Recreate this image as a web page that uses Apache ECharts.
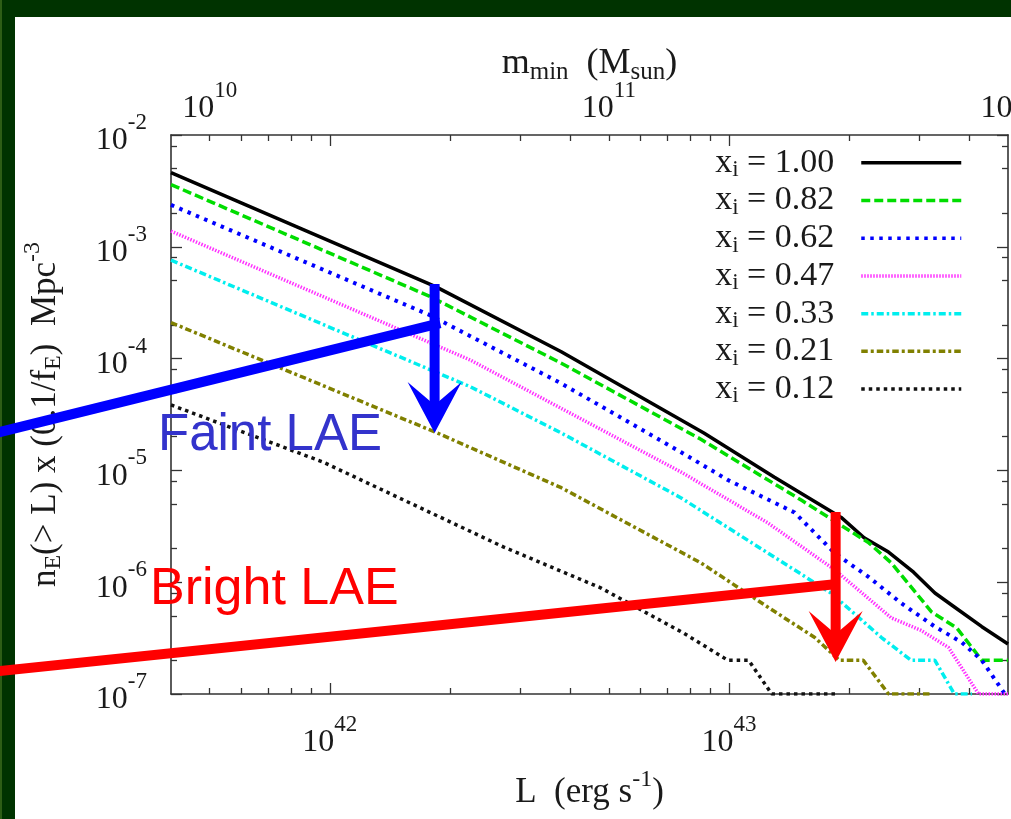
<!DOCTYPE html>
<html>
<head>
<meta charset="utf-8">
<script src="https://cdn.jsdelivr.net/npm/echarts@6/dist/echarts.min.js"></script>
<style>
  html, body { margin: 0; padding: 0; width: 1011px; height: 819px; overflow: hidden; background: #003300; }
  #edge { position: absolute; left: 0; top: 0; width: 2px; bottom: 0; background: #2e5e16; }
  #sheet { position: absolute; left: 15px; top: 17px; right: 0; bottom: 0; background: #ffffff; }
  #chart { position: absolute; left: 0; top: 0; width: 1011px; height: 819px; }
</style>
</head>
<body>
<div id="edge"></div>
<div id="sheet"></div>
<div id="chart"></div>
<script>
// Cumulative LAE number density n_E(>L) for several ionized fractions x_i
const seriesNames = ['x_i = 1.00', 'x_i = 0.82', 'x_i = 0.62', 'x_i = 0.47', 'x_i = 0.33', 'x_i = 0.21', 'x_i = 0.12'];

const lum100 = [4.0e41, 1.84e42, 3.8e42, 8.65e42, 1.30e43, 1.91e43, 2.18e43, 2.51e43, 2.90e43, 3.28e43, 3.67e43, 4.30e43, 5.0e43];
const dens100 = [4.6e-3, 4.4e-4, 1.15e-4, 2.16e-5, 8.7e-6, 3.8e-6, 2.5e-6, 1.86e-6, 1.23e-6, 8.0e-7, 6.0e-7, 4.0e-7, 2.8e-7];

const lum082 = [4.0e41, 1.78e42, 3.8e42, 8.5e42, 1.52e43, 2.24e43, 2.55e43, 3.22e43, 3.72e43, 4.30e43, 5.0e43];
const dens082 = [3.6e-3, 3.6e-4, 9.1e-5, 1.9e-5, 5.4e-6, 2.25e-6, 1.49e-6, 5.4e-7, 3.9e-7, 2.0e-7, 2.0e-7];

const lum062 = [4.0e41, 1.78e42, 3.8e42, 7.57e42, 9.94e42, 1.46e43, 1.84e43, 2.24e43, 2.70e43, 3.28e43, 3.83e43, 4.30e43, 4.91e43, 5.0e43];
const dens062 = [2.37e-3, 2.45e-4, 6.0e-5, 1.46e-5, 8.2e-6, 4.2e-6, 1.82e-6, 1.11e-6, 6.5e-7, 4.0e-7, 2.9e-7, 2.0e-7, 1.0e-7, 1.0e-7];

const lum047 = [4.0e41, 2.25e42, 7.57e42, 1.25e43, 1.84e43, 2.55e43, 3.03e43, 3.55e43, 4.22e43, 5.0e43];
const dens047 = [1.38e-3, 9.7e-5, 9.7e-6, 3.4e-6, 1.29e-6, 4.8e-7, 3.7e-7, 2.6e-7, 1.0e-7, 1.0e-7];

const lum033 = [4.0e41, 2.25e42, 3.8e42, 7.57e42, 1.80e43, 2.41e43, 2.86e43, 3.28e43, 3.67e43, 4.06e43];
const dens033 = [7.6e-4, 5.6e-5, 2.16e-5, 5.7e-6, 8.0e-7, 3.2e-7, 2.0e-7, 2.0e-7, 1.0e-7, 1.0e-7];

const lum021 = [4.0e41, 1.86e42, 3.8e42, 8.5e42, 1.25e43, 1.64e43, 1.89e43, 2.17e43, 2.51e43, 3.22e43];
const dens021 = [2.1e-4, 2.16e-5, 7.0e-6, 1.49e-6, 6.0e-7, 3.2e-7, 2.0e-7, 2.0e-7, 1.0e-7, 1.0e-7];

const lum012 = [4.0e41, 9.6e41, 2.72e42, 4.77e42, 7.7e42, 9.94e42, 1.12e43, 1.28e43, 1.88e43];
const dens012 = [3.85e-5, 1.19e-5, 2.07e-6, 8.9e-7, 3.5e-7, 2.0e-7, 2.0e-7, 1.0e-7, 1.0e-7];

// Axis ranges and ticks
const lumRange = [4e41, 5e43];
const densRange = [1e-7, 1e-2];
const massPerLum = 2e-32;            // m_min (M_sun) per unit L (erg/s) for the top axis
const lumMajor = [1e42, 1e43];
const lumMinor = [5e41, 6e41, 7e41, 8e41, 9e41, 2e42, 3e42, 4e42, 5e42, 6e42, 7e42, 8e42, 9e42, 2e43, 3e43, 4e43];
const densMajor = [1e-7, 1e-6, 1e-5, 1e-4, 1e-3, 1e-2];
const densMinor = [2e-7, 5e-7, 8e-7, 2e-6, 5e-6, 8e-6, 2e-5, 5e-5, 8e-5, 2e-4, 5e-4, 8e-4, 2e-3, 5e-3, 8e-3];
const massMajor = [1e10, 1e11, 1e12];

// "Faint LAE" / "Bright LAE" guide lines and arrows (L in erg/s, n in Mpc^-3)
const guideFromL = [1.45e41, 1.45e41];
const guideFromN = [2.15e-5, 1.59e-7];
const guideToL = [1.89e42, 1.84e43];
const guideToN = [2.08e-4, 9.6e-7];
const arrowAtL = [1.83e42, 1.85e43];
const arrowFromN = [4.64e-4, 4.25e-6];
const arrowToN = [2.16e-5, 1.93e-7];
const markColors = ['#0000ff', '#ff0000'];

const lg = Math.log10;
const serif = '"Liberation Serif", "Times New Roman", serif';
const ink = '#1a1a1a';
const frame = '#333333';

const curves = [
  [lum100, dens100], [lum082, dens082], [lum062, dens062], [lum047, dens047],
  [lum033, dens033], [lum021, dens021], [lum012, dens012]
];
const curveStyles = [
  { color: '#000000', width: 3.5, type: 'solid' },
  { color: '#00dd00', width: 3.5, type: [9, 4] },
  { color: '#0000ff', width: 4, type: [3.5, 5.5] },
  { color: '#ff33ff', width: 3.5, type: [1.5, 1.5] },
  { color: '#00eeee', width: 3.5, type: [7, 3, 2.5, 3] },
  { color: '#808000', width: 3.5, type: [6.5, 3, 3, 3] },
  { color: '#111111', width: 3.5, type: [3.5, 4] }
];

const labelRich = {
  b: { fontFamily: serif, fontSize: 32, color: ink, lineHeight: 40, padding: [12, 0, 0, 0] },
  p: { fontFamily: serif, fontSize: 23, color: ink, lineHeight: 40, padding: [0, 0, 24, 0] }
};
const nameRich = {
  b: { fontFamily: serif, fontSize: 35, color: ink, lineHeight: 42 },
  s: { fontFamily: serif, fontSize: 24, color: ink, lineHeight: 42, padding: [16, 0, 0, 0] },
  p: { fontFamily: serif, fontSize: 24, color: ink, lineHeight: 42, padding: [0, 0, 26, 0] }
};
const topNameRich = {
  b: { fontFamily: serif, fontSize: 36, color: ink, lineHeight: 44 },
  s: { fontFamily: serif, fontSize: 25, color: ink, lineHeight: 44, padding: [16, 0, 0, 0] }
};
const legendRich = {
  b: { fontFamily: serif, fontSize: 34, color: ink, lineHeight: 37.5 },
  s: { fontFamily: serif, fontSize: 23, color: ink, lineHeight: 37.5, padding: [14.7, 0, 0, 0] },
  g: { width: 22, lineHeight: 37.5 }
};
const powLabel = v => '{b|10}{p|' + Math.round(v) + '}';

function tickAxis(position, range, ticks, len, withLine) {
  return {
    type: 'value', position: position, min: lg(range[0]), max: lg(range[1]),
    axisLine: { show: withLine, onZero: false, lineStyle: { color: frame, width: 1.6 } },
    axisTick: { show: true, inside: true, length: len, customValues: ticks.map(lg), lineStyle: { color: frame, width: 1.3 } },
    axisLabel: { show: false },
    splitLine: { show: false }
  };
}

const xBottom = tickAxis('bottom', lumRange, lumMajor, 11, true);
xBottom.axisLabel = { show: true, customValues: lumMajor.map(lg), margin: 23, formatter: powLabel, rich: labelRich };
xBottom.name = '{b|L  (erg s}{p|-1}{b|)}';
xBottom.nameLocation = 'middle';
xBottom.nameGap = 78;
xBottom.nameMoveOverlap = false;
xBottom.nameTextStyle = { rich: nameRich };

const xMass = {
  type: 'value', position: 'top',
  min: lg(lumRange[0] * massPerLum), max: lg(lumRange[1] * massPerLum),
  axisLine: { show: false, onZero: false }, axisTick: { show: false }, splitLine: { show: false },
  axisLabel: { show: true, customValues: massMajor.map(lg), margin: 12, formatter: powLabel, rich: labelRich },
  name: '{b|m}{s|min}{b|  (M}{s|sun}{b|)}', nameLocation: 'middle', nameGap: 49, nameMoveOverlap: false,
  nameTextStyle: { rich: topNameRich }
};

const yLeft = tickAxis('left', densRange, densMajor, 11, true);
yLeft.axisLabel = { show: true, customValues: densMajor.map(lg), margin: 24, formatter: powLabel, rich: labelRich };
yLeft.name = '{b|n}{s|E}{b|(> L) x (0.1/f}{s|E}{b|)  Mpc}{p|-3}';
yLeft.nameLocation = 'middle';
yLeft.nameRotate = 90;
yLeft.nameGap = 104;
yLeft.nameMoveOverlap = false;
yLeft.nameTextStyle = { rich: nameRich };

const curveSeries = curves.map((c, i) => ({
  type: 'line', name: seriesNames[i], xAxisIndex: 0, yAxisIndex: 0,
  data: c[0].map((l, k) => [lg(l), lg(c[1][k])]),
  symbol: 'none', showSymbol: false, smooth: false, clip: true,
  lineStyle: { color: curveStyles[i].color, width: curveStyles[i].width, type: curveStyles[i].type, cap: 'butt' },
  itemStyle: { color: curveStyles[i].color },
  emphasis: { disabled: true }, silent: true
}));

const annotationSeries = {
  type: 'custom', name: 'LAE markers', xAxisIndex: 0, yAxisIndex: 0, clip: false, z: 10, silent: true,
  data: guideFromL.map((l, i) => [lg(l), lg(guideFromN[i]), lg(guideToL[i]), lg(guideToN[i]),
                                  lg(arrowAtL[i]), lg(arrowFromN[i]), lg(arrowToN[i])]),
  renderItem: function (params, api) {
    const color = markColors[params.dataIndex];
    const a = api.coord([api.value(0), api.value(1)]);
    const b = api.coord([api.value(2), api.value(3)]);
    const top = api.coord([api.value(4), api.value(5)]);
    const tip = api.coord([api.value(4), api.value(6)]);
    const headLen = 51, halfW = 27, notch = 28;
    return {
      type: 'group',
      children: [
        { type: 'line', shape: { x1: a[0], y1: a[1], x2: b[0], y2: b[1] }, style: { stroke: color, lineWidth: 10 } },
        { type: 'line', shape: { x1: top[0], y1: top[1], x2: tip[0], y2: tip[1] - notch }, style: { stroke: color, lineWidth: 10 } },
        { type: 'polygon', shape: { points: [[tip[0], tip[1]], [tip[0] - halfW, tip[1] - headLen], [tip[0], tip[1] - notch], [tip[0] + halfW, tip[1] - headLen]] }, style: { fill: color } }
      ]
    };
  }
};

const chart = echarts.init(document.getElementById('chart'), null, { renderer: 'canvas' });
chart.setOption({
  backgroundColor: 'transparent',
  animation: false,
  grid: { left: 171, top: 135, width: 837, height: 559, containLabel: false, outerBoundsMode: 'none' },
  xAxis: [
    xBottom,
    tickAxis('bottom', lumRange, lumMinor, 6, false),
    tickAxis('top', lumRange, lumMajor, 11, true),
    tickAxis('top', lumRange, lumMinor, 6, false),
    xMass
  ],
  yAxis: [
    yLeft,
    tickAxis('left', densRange, densMinor, 6, false),
    tickAxis('right', densRange, densMajor, 11, true),
    tickAxis('right', densRange, densMinor, 6, false)
  ],
  legend: {
    data: seriesNames, orient: 'vertical', right: 48, top: 144, align: 'right',
    itemWidth: 100, itemHeight: 12, itemGap: 0, padding: 0, selectedMode: false,
    lineStyle: { width: 3.5 },
    itemStyle: { opacity: 0, color: 'rgba(0,0,0,0)', borderWidth: 0 },
    formatter: name => '{b|x}{s|i}{b| = ' + name.split('= ')[1] + '}{g| }',
    textStyle: { rich: legendRich }
  },
  graphic: [
    { type: 'text', x: 158, y: 436, z: 50, silent: true,
      style: { text: 'Faint LAE', fontFamily: '"Liberation Sans", Arial, sans-serif', fontSize: 51,
               fill: '#3333cc', align: 'left', verticalAlign: 'middle', textAlign: 'left', textVerticalAlign: 'middle' } },
    { type: 'text', x: 150, y: 590, z: 50, silent: true,
      style: { text: 'Bright LAE', fontFamily: '"Liberation Sans", Arial, sans-serif', fontSize: 52,
               fill: '#ff0000', align: 'left', verticalAlign: 'middle', textAlign: 'left', textVerticalAlign: 'middle' } }
  ],
  series: curveSeries.concat([annotationSeries])
});
</script>
</body>
</html>
